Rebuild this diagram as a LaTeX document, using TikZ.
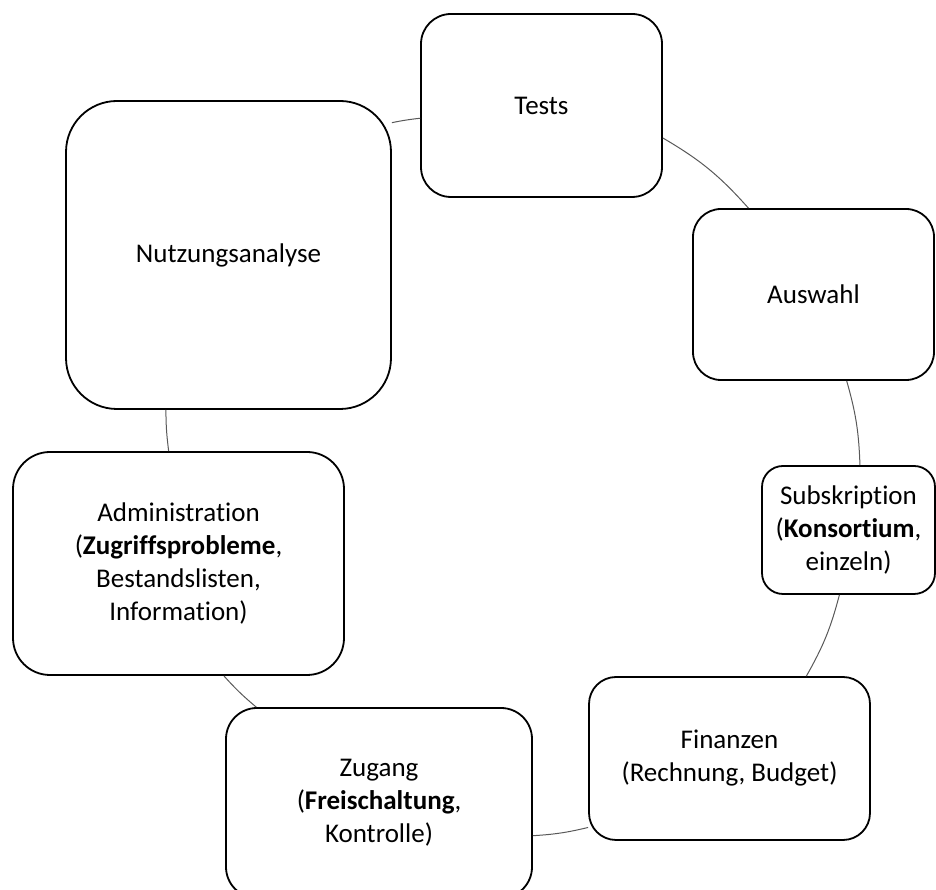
\documentclass[tikz,border=0pt]{standalone}
\usepackage{fontspec}
\setmainfont{Carlito}[Ligatures={NoCommon,NoContextual}]
\begin{document}
\begin{tikzpicture}[x=1pt,y=1pt,stage/.style={draw,line width=1.8pt,align=center,inner sep=0pt,font=\fontsize{27}{33}\selectfont},link/.style={draw=black!65,line width=1pt}]
\useasboundingbox (0,0) rectangle (936,890);
\node[stage,minimum width=241pt,minimum height=183pt,rounded corners=30pt] at (541.5,784.5) (tests) {Tests};
\node[stage,minimum width=241pt,minimum height=171pt,rounded corners=28pt] at (813.5,595.5) (auswahl) {Auswahl};
\node[stage,minimum width=173pt,minimum height=128pt,rounded corners=21pt] at (848.5,360) (subskription) {Subskription\\(\textbf{Konsortium},\\einzeln)};
\node[stage,minimum width=281pt,minimum height=163pt,rounded corners=27pt] at (729.5,131.5) (finanzen) {Finanzen\\(Rechnung, Budget)};
\node[stage,minimum width=306pt,minimum height=190pt,rounded corners=31pt] at (379,87) (zugang) {Zugang\\(\textbf{Freischaltung},\\Kontrolle)};
\node[stage,minimum width=331pt,minimum height=223pt,rounded corners=37pt] at (178.5,326.5) (admin) {Administration\\(\textbf{Zugriffsprobleme},\\Bestandslisten,\\Information)};
\node[stage,minimum width=325pt,minimum height=308pt,rounded corners=51pt] at (228.5,635) (nutzung) {Nutzungsanalyse};
\draw[link] (tests.345) to[bend left=9] (auswahl.127);
\draw[link] (auswahl.291.7) to[bend left=7] (subskription.80.7);
\draw[link] (subskription.262.4) to[bend left=7.5] (finanzen.47.9);
\draw[link] (finanzen.206.6) to[bend left=5] (zugang.348.9);
\draw[link] (zugang.142.1) to[bend left=4] (admin.292.6);
\draw[link] (admin.95.4) to[bend left=3.5] (nutzung.248.55);
\draw[link] (nutzung.39) to[bend left=2.5] (tests.186.4);
\end{tikzpicture}
\end{document}
